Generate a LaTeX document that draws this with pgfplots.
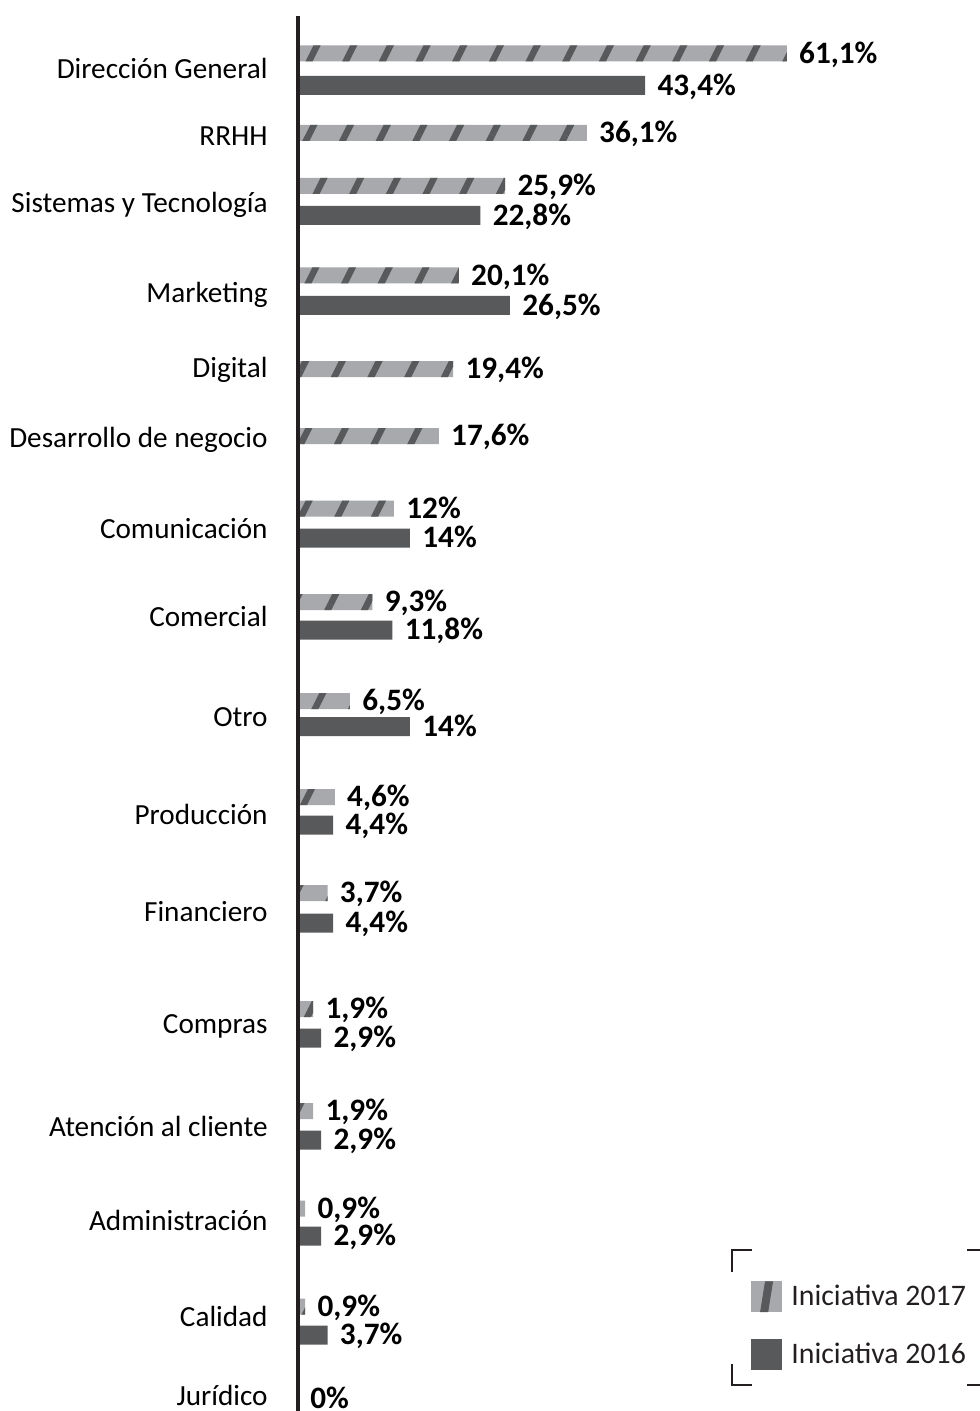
\documentclass[border=0pt]{standalone}
\usepackage{fontspec}
\setmainfont{Carlito}
\usepackage{pgfplots}
\usepackage{pgfplotstable}
\pgfplotsset{compat=1.18}
\usetikzlibrary{patterns.meta}
\definecolor{lightbar}{HTML}{A7A9AC}
\definecolor{darkbar}{HTML}{58595B}
\definecolor{axisblack}{HTML}{231F20}

% v = percentage, y = vertical position (pixels from top), lab = printed label
\pgfplotstableread{
v y lab
61.1 53.5 61,1
36.1 133 36,1
25.9 186 25,9
20.1 275.5 20,1
19.4 369 19,4
17.6 436 17,6
12 508.5 12
9.3 602 9,3
6.5 701 6,5
4.6 797 4,6
3.7 893 3,7
1.9 1009 1,9
1.9 1111 1,9
0.9 1208.5 0,9
0.9 1306.5 0,9
}\dataA

\pgfplotstableread{
v y lab
43.4 85.5 43,4
22.8 215.5 22,8
26.5 305.5 26,5
14 538 14
11.8 630 11,8
14 726.5 14
4.4 825 4,4
4.4 923 4,4
2.9 1038 2,9
2.9 1140 2,9
2.9 1236 2,9
3.7 1335 3,7
0 1399 0
}\dataB

\begin{document}
\begin{tikzpicture}
\begin{axis}[
  scale only axis,
  width=341pt, height=697.5pt,
  xmin=0, xmax=85.25,
  ymin=16, ymax=1411,
  y dir=reverse,
  enlargelimits=false,
  clip=false,
  axis on top,
  xbar, bar shift=0pt,
  axis x line=none,
  axis y line*=left,
  y axis line style={line width=2.4pt, color=axisblack},
  major tick length=0pt,
  ytick={68.5,136,203,293,368,438,529,617,717,815,912,1024,1127,1221,1316.5,1396},
  yticklabels={Dirección General, RRHH, Sistemas y Tecnología, Marketing, Digital, Desarrollo de negocio, Comunicación, Comercial, Otro, Producción, Financiero, Compras, Atención al cliente, Administración, Calidad, Jurídico},
  yticklabel style={anchor=base east, inner sep=0pt, xshift=-15pt, yshift=-4.8pt, font=\fontsize{14.6}{17}\selectfont, text=black},
  point meta=explicit symbolic,
  nodes near coords={\pgfplotspointmeta\%},
  every node near coord/.style={anchor=base west, inner sep=0pt, xshift=6pt, yshift=-4.9pt, font=\bfseries\fontsize{15.6}{18}\selectfont, text=black},
  legend style={at={(axis cs:56.625,1281)}, anchor=north west, draw=none, fill=none, inner sep=0pt, outer sep=0pt,
    row sep=13pt, font=\fontsize{14.9}{17}\selectfont, text=axisblack},
  legend cell align=left,
]
\addplot[fill=lightbar, draw=none, bar width=16, forget plot,
  postaction={pattern={Lines[angle=63.4, distance=16.4pt, line width=3.2pt]}, pattern color=darkbar}]
  table[x=v, y=y, meta=lab] {\dataA};
\addlegendimage{legend image code/.code={\fill[lightbar] (0pt,-7.5pt) rectangle (15pt,7.5pt);
    \fill[darkbar] (4.6pt,-7.5pt) -- (8.2pt,-7.5pt) -- (10.6pt,7.5pt) -- (7.0pt,7.5pt) -- cycle;
    \path[draw=none, fill=none] (0pt,0pt) -- (18pt,0pt);}}
\addlegendentry{Iniciativa 2017}
\addplot[fill=darkbar, draw=none, bar width=19, forget plot]
  table[x=v, y=y, meta=lab] {\dataB};
\addlegendimage{legend image code/.code={\fill[darkbar] (0pt,-7.5pt) rectangle (15pt,7.5pt);
    \path[draw=none, fill=none] (0pt,0pt) -- (18pt,0pt);}}
\addlegendentry{Iniciativa 2016}

% legend corner brackets
\draw[axisblack, line width=1pt] (axis cs:56.75,1250) -- (axis cs:54.25,1250) -- (axis cs:54.25,1272);
\draw[axisblack, line width=1pt] (axis cs:54.25,1364) -- (axis cs:54.25,1385) -- (axis cs:56.75,1385);
\draw[axisblack, line width=1pt] (axis cs:83.625,1250) -- (axis cs:86.125,1250) -- (axis cs:86.125,1272);
\draw[axisblack, line width=1pt] (axis cs:83.625,1385) -- (axis cs:86.125,1385) -- (axis cs:86.125,1364);

\coordinate (BL) at (axis cs:-37.25,1411);
\coordinate (TR) at (axis cs:85.25,0);
\end{axis}
\pgfresetboundingbox
\path[use as bounding box] (BL) rectangle (TR);
\end{tikzpicture}
\end{document}
